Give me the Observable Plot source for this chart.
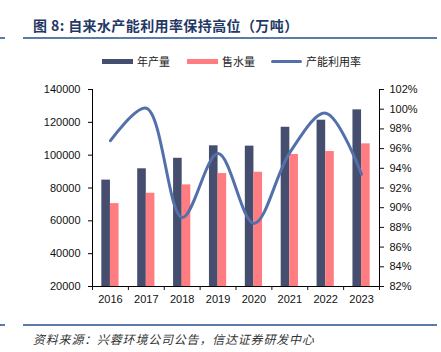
<!DOCTYPE html>
<html>
<head>
<meta charset="utf-8">
<script src="https://cdn.jsdelivr.net/npm/d3@7"></script>
<script src="https://cdn.jsdelivr.net/npm/@observablehq/plot@0.6"></script>
<style>
  html, body { margin: 0; padding: 0; background: #fff; }
  #wrap { position: relative; width: 441px; height: 352px; overflow: hidden; font-family: "Liberation Sans", Arial, sans-serif; }
  #wrap svg { position: absolute; left: 0; top: 0; }
  .title { position: absolute; left: 33px; top: 15px; font-family: "Noto Sans CJK SC", sans-serif; font-weight: bold; font-size: 14px; color: #1f3864; white-space: nowrap; line-height: 20px; letter-spacing: 0.4px; }
  .rule { position: absolute; height: 2px; background: #5b7ca8; }
  .legend { position: absolute; top: 52px; left: 0; width: 441px; height: 18px; font-family: "Noto Sans CJK SC", sans-serif; font-size: 11px; color: #222; }
  .legend .item { position: absolute; top: 0; display: flex; align-items: center; height: 18px; white-space: nowrap; }
  .legend .sw { width: 31px; height: 5px; margin-right: 4px; }
  .caption { position: absolute; left: 33px; top: 330px; font-family: "Noto Sans CJK SC", sans-serif; font-style: italic; font-size: 12px; color: #333; white-space: nowrap; letter-spacing: 0.8px; line-height: 18px; }
</style>
</head>
<body>
<div id="wrap"></div>
<script>
const years = [2016, 2017, 2018, 2019, 2020, 2021, 2022, 2023];
const production = [84800, 91700, 98100, 105700, 105500, 117000, 121300, 127600];
const waterSold = [70500, 76800, 81900, 88800, 89600, 100400, 102200, 106900];
const utilization = [96.8, 100.1, 89.0, 95.5, 88.4, 95.6, 99.6, 93.4];
const leftTicks = [20000, 40000, 60000, 80000, 100000, 120000, 140000];
const rightTicks = [82, 84, 86, 88, 90, 92, 94, 96, 98, 100, 102];
const seriesNames = ["年产量", "售水量", "产能利用率"];
const colors = ["#454e6e", "#ff7c80", "#5470ab"];

const titleText = "图 8:  自来水产能利用率保持高位（万吨）";
const captionText = "资料来源：兴蓉环境公司公告，信达证券研发中心";

// dual-axis mapping: percent (right) -> left scale units
const pMin = 82, pMax = 102, lMin = 20000, lMax = 140000;
const toLeft = p => lMin + (p - pMin) / (pMax - pMin) * (lMax - lMin);
const fromLeft = v => Math.round(pMin + (v - lMin) / (lMax - lMin) * (pMax - pMin));

const table = years.map((y, i) => ({year: y, prod: production[i], sold: waterSold[i], util: toLeft(utilization[i])}));
const bounds = [years[0] - 0.5, ...years.map(y => y + 0.5)];
const barW = 0.24;

const chart = Plot.plot({
  width: 441,
  height: 352,
  marginTop: 89,
  marginBottom: 66,
  marginLeft: 92,
  marginRight: 62,
  style: {fontFamily: "Liberation Sans, Arial, sans-serif", fontSize: "11px", color: "#111", background: "transparent", overflow: "visible"},
  x: {domain: [years[0] - 0.5, years[years.length - 1] + 0.5]},
  y: {domain: [lMin, lMax]},
  marks: [
    Plot.rect(table, {x1: d => d.year - barW, x2: d => d.year, y1: lMin, y2: "prod", fill: colors[0]}),
    Plot.rect(table, {x1: d => d.year, x2: d => d.year + barW, y1: lMin, y2: "sold", fill: colors[1]}),
    Plot.line(table, {x: "year", y: "util", stroke: colors[2], strokeWidth: 3, curve: "catmull-rom"}),
    Plot.ruleY([lMin], {stroke: "#000", strokeWidth: 1}),
    Plot.ruleX([bounds[0], bounds[bounds.length - 1]], {stroke: "#000", strokeWidth: 1}),
    Plot.axisY({anchor: "left", ticks: leftTicks, tickSize: 4, tickPadding: 8, tickFormat: d => String(d), label: null, stroke: "#000"}),
    Plot.axisY({anchor: "right", ticks: rightTicks.map(toLeft), tickSize: 4, tickPadding: 6, tickFormat: v => fromLeft(v) + "%", label: null}),
    Plot.axisX({ticks: bounds, tickSize: 4, tickFormat: () => "", label: null}),
    Plot.axisX({ticks: years, tickSize: 0, tickPadding: 9, tickFormat: d => String(d), label: null})
  ]
});

const wrap = document.getElementById("wrap");
wrap.appendChild(chart);

function addDiv(cls, style, text) {
  const d = document.createElement("div");
  d.className = cls;
  Object.assign(d.style, style);
  if (text != null) d.textContent = text;
  wrap.appendChild(d);
  return d;
}
addDiv("title", {}, titleText);
addDiv("rule", {left: "0px", width: "5px", top: "37px"});
addDiv("rule", {left: "23px", width: "414px", top: "37px"});
addDiv("rule", {left: "0px", width: "5px", top: "324px"});
addDiv("rule", {left: "23px", width: "414px", top: "324px"});
addDiv("caption", {}, captionText);

const legend = addDiv("legend", {});
const legendX = [102, 187, 271];
seriesNames.forEach((name, i) => {
  const it = document.createElement("div");
  it.className = "item";
  it.style.left = legendX[i] + "px";
  const sw = document.createElement("div");
  sw.className = "sw";
  sw.style.background = colors[i];
  if (i === 2) { sw.style.height = "3px"; sw.style.borderRadius = "2px"; }
  const t = document.createElement("span");
  t.textContent = name;
  it.appendChild(sw);
  it.appendChild(t);
  legend.appendChild(it);
});
</script>
</body>
</html>
